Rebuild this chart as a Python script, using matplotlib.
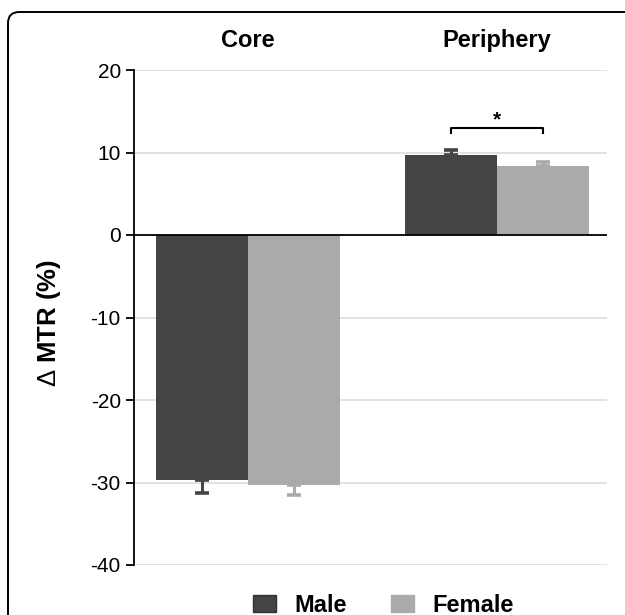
import matplotlib
matplotlib.use("Agg")
import matplotlib.pyplot as plt
from matplotlib.patches import FancyBboxPatch, Patch
import numpy as np

plt.rcParams['font.family'] = ['Liberation Sans', 'DejaVu Sans']
plt.rcParams['mathtext.fontset'] = 'custom'
plt.rcParams['mathtext.rm'] = 'Liberation Sans'

regions = ["Core", "Periphery"]
groups = ["Male", "Female"]
male_vals = [-29.7, 9.7]
male_err = [1.6, 0.6]
female_vals = [-30.3, 8.4]
female_err = [1.2, 0.5]
colors = {"Male": "#444444", "Female": "#aaaaaa"}
yticks = [20, 10, 0, -10, -20, -30, -40]

fig = plt.figure(figsize=(6.25, 6.15), dpi=100)
ax = fig.add_axes([134/625, 1-565/615, (607-134)/625, (565-70)/615])

x = np.arange(len(regions))
w = 0.37
for vals, errs, g, off in [(male_vals, male_err, "Male", -w/2), (female_vals, female_err, "Female", w/2)]:
    ax.bar(x + off, vals, width=w, color=colors[g], zorder=2)
    for xi, v, e in zip(x + off, vals, errs):
        lower = [e] if v < 0 else [0]
        upper = [0] if v < 0 else [e]
        ax.errorbar(xi, v, yerr=[lower, upper], fmt='none', ecolor=colors[g],
                    elinewidth=2.2, capsize=5, capthick=2.6, zorder=3)

ax.set_ylim(-40, 20)
ax.set_xlim(-0.458, 1.442)
ax.set_yticks(yticks)
ax.set_yticklabels([str(t) for t in yticks], fontsize=15)
ax.set_xticks([])
for t in yticks:
    if t != 0:
        ax.axhline(t, color='#dddddd', lw=1.2, zorder=0)
ax.axhline(0, color='black', lw=1.3, zorder=4)
for s in ['top', 'right', 'bottom']:
    ax.spines[s].set_visible(False)
ax.spines['left'].set_linewidth(1.3)
ax.tick_params(axis='y', length=5.5, width=1.3, pad=4)

fig.text(49/625, 1-323/615, r"$\Delta$ MTR (%)", rotation=90, ha='center', va='center',
         fontsize=18.5, fontweight='bold')

for xi, r in zip(x, regions):
    fig.text((248 + xi*249)/625, 1-47/615, r, ha='center', va='baseline',
             fontsize=17, fontweight='bold')

# significance bracket
ax.plot([x[1]-w/2, x[1]-w/2, x[1]+w/2, x[1]+w/2], [12.4, 13.0, 13.0, 12.4],
        color='black', lw=1.5, zorder=5)
ax.text(x[1], 13.3, "*", ha='center', va='baseline', fontsize=15, fontweight='bold')

handles = [Patch(facecolor=colors[g], edgecolor='#333333' if g == "Male" else colors[g], label=g) for g in groups]
fig.legend(handles=handles, loc='center', bbox_to_anchor=(383/625, 1-605/615), ncol=2,
           frameon=False, prop={'weight': 'bold', 'size': 17},
           handlelength=1.0, handleheight=0.72, columnspacing=1.86, handletextpad=0.76,
           borderpad=0, borderaxespad=0)

border = FancyBboxPatch((8/625, -0.05), 1.2, 1-12/615+0.05,
                        boxstyle="round,pad=0,rounding_size=0.018",
                        transform=fig.transFigure, fill=False, edgecolor='black', lw=1.4,
                        clip_on=False)
fig.patches.append(border)

fig.savefig("out.png", dpi=100)
